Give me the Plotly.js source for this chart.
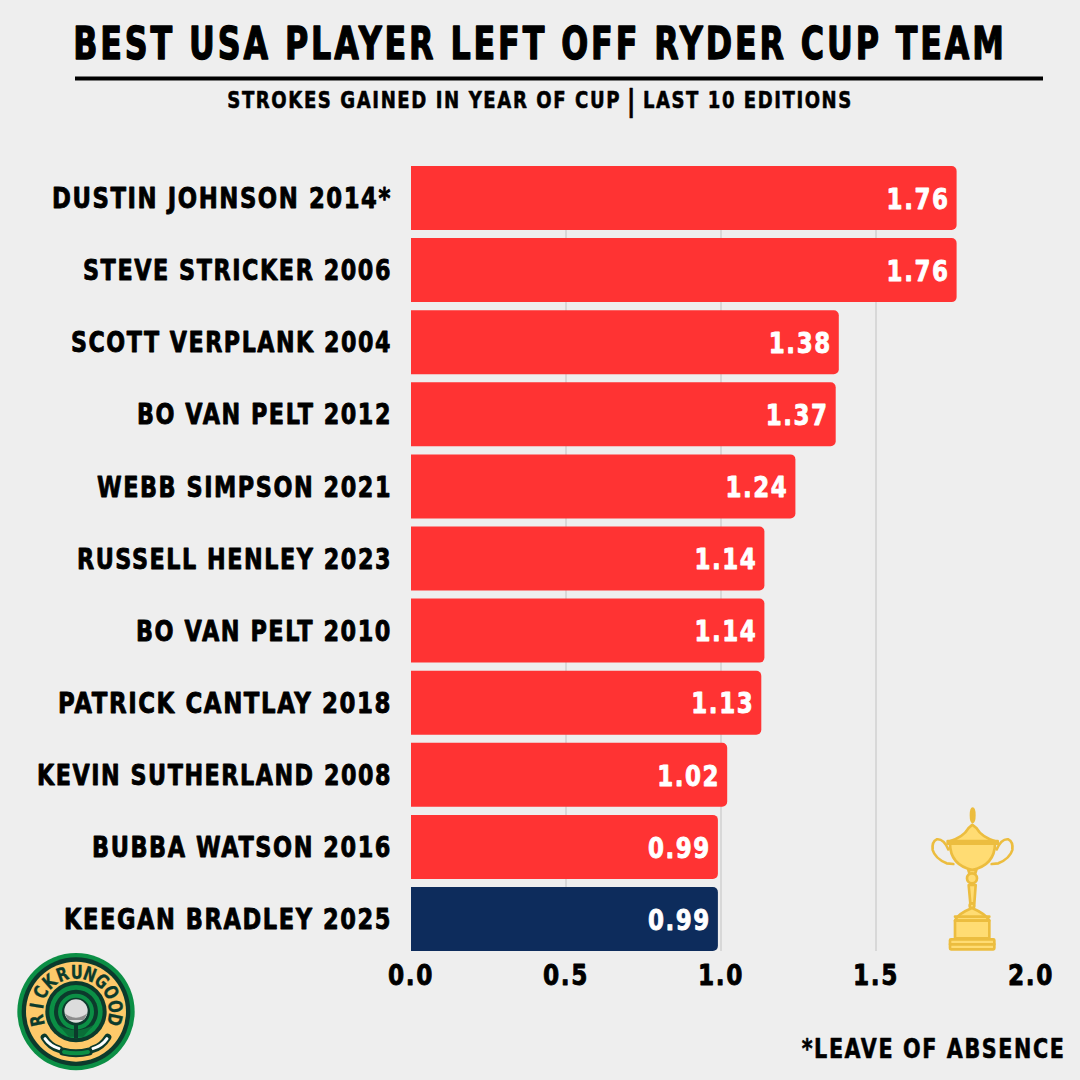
<!DOCTYPE html>
<html><head><meta charset="utf-8">
<script src="https://cdn.plot.ly/plotly-3.0.1.min.js"></script>
<style>
html,body{margin:0;padding:0;background:#eeeeee;}
#chart{width:1080px;height:1080px;}
#chart text{paint-order:stroke;stroke-linejoin:round;letter-spacing:2px;}
#chart .gtitle{stroke:#000;stroke-width:1.4px;letter-spacing:4px;}
#chart .ytick text{stroke:#000;stroke-width:.9px;}
#chart .xtick text{stroke:#000;stroke-width:.9px;}
#chart .textpoint text{stroke:#fff;stroke-width:.9px;}
#chart .annotation text{stroke:#000;stroke-width:.6px;}
</style></head><body><div id="chart"></div>
<script>
const players=["DUSTIN JOHNSON 2014*","STEVE STRICKER 2006","SCOTT VERPLANK 2004","BO VAN PELT 2012","WEBB SIMPSON 2021","RUSSELL HENLEY 2023","BO VAN PELT 2010","PATRICK CANTLAY 2018","KEVIN SUTHERLAND 2008","BUBBA WATSON 2016","KEEGAN BRADLEY 2025"];
const strokesGained=[1.76,1.76,1.38,1.37,1.24,1.14,1.14,1.13,1.02,0.99,0.99];
const barColors=["#ff3333","#ff3333","#ff3333","#ff3333","#ff3333","#ff3333","#ff3333","#ff3333","#ff3333","#ff3333","#0d2c5c"];
const xTicks=[0,0.5,1,1.5,2];
const xTickLabels=["0.0","0.5","1.0","1.5","2.0"];
const logoLetters="RICKRUNGOOD".split("");
const labelWidths=[340,309,321,255,295,315,256,334,355,300,328];

const FONT='"DejaVu Sans",sans-serif';
const W=1080,H=1080,L=411,R=1031,T=166,B=951;
const px=x=>(x-L)/(R-L), py=y=>(B-y)/(B-T);

const trophySvg=`<svg xmlns="http://www.w3.org/2000/svg" viewBox="0 0 480 540" width="480" height="540">
<g fill="#ffdc73" stroke="#ecbd3f" stroke-width="8" stroke-linejoin="round" stroke-linecap="round">
<path fill="none" d="M145 178Q130 145 110 148Q95 155 98 180Q105 205 140 220L160 222"/>
<path fill="none" d="M290 178Q305 145 325 148Q340 155 337 180Q330 205 295 220L275 222"/>
<ellipse cx="218" cy="76" rx="5" ry="20" fill="#ecbd3f"/>
<path d="M145 155Q190 142 205 115L217 104L230 115Q245 142 290 155Z"/>
<path d="M150 160H285Q285 225 217 240Q150 225 150 160Z"/>
<rect x="143" y="153" width="150" height="8"/>
<path d="M205 240H229L225 252H209Z"/>
<circle cx="216" cy="265" r="15"/>
<path d="M206 285H227L223 340H211Z"/>
<circle cx="216" cy="347" r="7"/>
<path d="M165 392Q172 372 216 354Q258 372 268 392Z"/>
<rect x="165" y="392" width="103" height="53"/>
<rect x="150" y="448" width="133" height="30" rx="3"/>
<path d="M150 463H283M165 380H268" fill="none"/>
</g></svg>`;

const logoSvg=`<svg xmlns="http://www.w3.org/2000/svg" viewBox="0 0 480 420" width="480" height="420">
<circle cx="228" cy="215" r="176" fill="#0b8f45"/>
<circle cx="228" cy="215" r="163" fill="#0c3a2c"/>
<circle cx="228" cy="215" r="150" fill="#fdc96a"/>
<circle cx="228" cy="215" r="92" fill="#0c3a2c"/>
<circle cx="228" cy="215" r="80" fill="#0b8f45"/>
<circle cx="228" cy="215" r="66" fill="#0c3a2c"/>
<circle cx="228" cy="215" r="54" fill="#0b8f45"/>
<circle cx="228" cy="215" r="42" fill="#0c3a2c"/>
<path d="M176 255Q228 285 280 255L250 290H206Z" fill="#0a6e38"/>
<rect x="222" y="240" width="12" height="55" fill="#0c3a2c"/>
<path d="M205 232Q228 262 251 232Z" fill="#0c3a2c"/>
<circle cx="228" cy="213" r="35" fill="#dcdcdc"/>
<path d="M194 220Q228 246 262 220L252 240H204Z" fill="#8c8c8c"/>
<path d="M133 292Q150 320 178 328" fill="none" stroke="#0c3a2c" stroke-width="22" stroke-linecap="round"/>
<path d="M323 292Q306 320 278 328" fill="none" stroke="#0c3a2c" stroke-width="22" stroke-linecap="round"/>
<path d="M135 296Q150 318 178 326" fill="none" stroke="#ffffff" stroke-width="9" stroke-linecap="round"/>
<path d="M321 296Q306 318 278 326" fill="none" stroke="#ffffff" stroke-width="9" stroke-linecap="round"/>
<path d="M190 335Q228 345 266 335" fill="none" stroke="#0c3a2c" stroke-width="24" stroke-linecap="round"/>
<path d="M192 336Q228 344 264 336" fill="none" stroke="#0b8f45" stroke-width="12" stroke-linecap="round"/>
</svg>`;
const uri=s=>"data:image/svg+xml;charset=utf-8,"+encodeURIComponent(s);

const ann=(text,cx,cy,size,extra)=>Object.assign({text,xref:"paper",yref:"paper",x:px(cx),y:py(cy),xanchor:"center",yanchor:"middle",showarrow:false,font:{family:FONT,size,color:"#000",weight:700}},extra||{});
const annotations=[
 ann("STROKES GAINED IN YEAR OF CUP",424,100,23),
 ann("|",632,100,30,{font:{family:"Liberation Sans",size:32,color:"#000",weight:400}}),
 ann("LAST 10 EDITIONS",748,100,23),
 ann("*LEAVE OF ABSENCE",933,1049,26)
];
const fitWidths=[394,null,210,264];
logoLetters.forEach((c,i)=>{
  const deg=-102+20.4*i,a=deg*Math.PI/180,r=40;
  annotations.push(ann(c,76+r*Math.sin(a),1011.7-r*Math.cos(a),19,{textangle:deg,font:{family:FONT,size:19,color:"#0c3a2c",weight:700}}));
});

const data=[
 {type:"bar",orientation:"h",y:players,x:strokesGained,marker:{color:barColors,cornerradius:5,line:{width:0}},hoverinfo:"skip"},
 {type:"scatter",mode:"text",y:players,x:strokesGained,text:strokesGained.map(v=>v.toFixed(2)),textposition:"middle left",
  textfont:{family:FONT,size:29,color:"#fff",weight:700},hoverinfo:"skip",cliponaxis:false}
];

const layout={width:W,height:H,paper_bgcolor:"#eeeeee",plot_bgcolor:"#eeeeee",showlegend:false,
 margin:{l:L,r:W-R,t:T,b:H-B,pad:0},bargap:0.112,
 title:{text:"BEST USA PLAYER LEFT OFF RYDER CUP TEAM",x:0.5,xref:"container",xanchor:"center",y:1-44/H,yref:"container",yanchor:"middle",font:{family:FONT,size:44,color:"#000",weight:700}},
 xaxis:{range:[0,2],tickvals:xTicks,ticktext:xTickLabels,showgrid:true,gridcolor:"#d8d8d8",gridwidth:2,zeroline:false,showline:false,ticks:"",tickfont:{family:FONT,size:29,color:"#000",weight:700},automargin:false,ticklabelstandoff:4},
 yaxis:{type:"category",range:[10.444,-0.444],showgrid:false,zeroline:false,showline:false,ticks:"",ticklabelstandoff:18,tickfont:{family:FONT,size:29,color:"#000",weight:700},automargin:false},
 shapes:[{type:"line",xref:"paper",yref:"paper",x0:px(75),x1:px(1043),y0:py(78.5),y1:py(78.5),line:{color:"#000",width:4}}],
 annotations:annotations,
 images:[
  {source:uri(trophySvg),xref:"paper",yref:"paper",x:px(900),y:py(790),sizex:160/(R-L),sizey:180/(B-T),xanchor:"left",yanchor:"top",sizing:"stretch",layer:"above"},
  {source:uri(logoSvg),xref:"paper",yref:"paper",x:px(0),y:py(940),sizex:160/(R-L),sizey:140/(B-T),xanchor:"left",yanchor:"top",sizing:"stretch",layer:"above"}
 ]};

function squeeze(el,w){el.setAttribute("textLength",w);el.setAttribute("lengthAdjust","spacingAndGlyphs");}
// centred narrowing with a CSS transform, so that the reported box of the text is the drawn one
function narrow(el,w){
  const k=w/el.getBBox().width;
  el.style.transformBox="fill-box";el.style.transformOrigin="center";el.style.transform="scaleX("+k+")";
}
function condense(){
  const q=s=>Array.from(document.querySelectorAll("#chart "+s));
  q(".gtitle").forEach(t=>narrow(t,934));
  q(".ytick text").forEach(t=>{const i=players.indexOf(t.textContent);if(i>=0)squeeze(t,labelWidths[i]);});
  q(".xtick text").forEach(t=>squeeze(t,46));
  q(".textpoint text").forEach(t=>{
    squeeze(t,63);
    t.setAttribute("x",parseFloat(t.getAttribute("x"))-7);
    t.setAttribute("y",parseFloat(t.getAttribute("y"))+3.5);
  });
  fitWidths.forEach((w,i)=>{if(w)narrow(document.querySelector('#chart .annotation[data-index="'+i+'"] text'),w);});
  logoLetters.forEach((c,i)=>{
    const t=document.querySelector('#chart .annotation[data-index="'+(i+4)+'"] text');
    t.style.letterSpacing="0";t.style.stroke="#0c3a2c";t.style.strokeWidth=".3px";
    squeeze(t,t.getComputedTextLength()*0.78);
  });
}
Plotly.newPlot("chart",data,layout,{displayModeBar:false,staticPlot:true}).then(condense);
</script></body></html>
